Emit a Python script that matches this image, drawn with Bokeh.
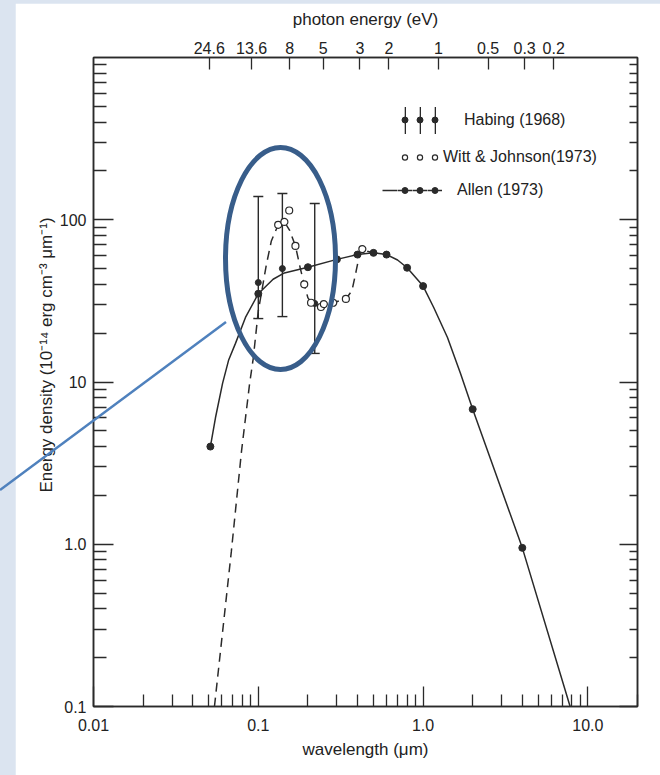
from bokeh.plotting import figure
from bokeh.models import (ColumnDataSource, Whisker, TeeHead, LogAxis, Range1d,
                          LogScale, FixedTicker, Legend, LegendItem, Title, Div)
from bokeh.layouts import column
from bokeh.core.properties import value
from bokeh.embed import file_html
from bokeh.resources import INLINE

# Wavelength in micron, energy density in 1e-14 erg cm^-3 micron^-1

# Habing (1968): far-UV points with error bars
habing_wl = [0.10, 0.14, 0.22]
habing_u = [41.0, 50.0, 30.5]
habing_lo = [24.6, 25.3, 15.0]
habing_hi = [139.0, 145.0, 126.0]

# Witt & Johnson (1973): measured points
witt_wl = [0.132, 0.144, 0.154, 0.168, 0.190, 0.209, 0.240, 0.250, 0.285, 0.340, 0.428]
witt_u = [93.0, 97.0, 114.0, 69.0, 40.0, 30.8, 29.0, 30.2, 30.8, 32.5, 66.0]

# Witt & Johnson (1973): dashed curve
witt_curve_wl = [0.0542, 0.0686, 0.0791, 0.0885, 0.0932, 0.100, 0.112, 0.120, 0.132,
                 0.144, 0.155, 0.168, 0.180, 0.190, 0.200, 0.214, 0.240, 0.285, 0.340,
                 0.370, 0.392, 0.410, 0.428, 0.460, 0.500]
witt_curve_u = [0.10, 0.90, 3.75, 9.7, 14.0, 27.4, 53.0, 74.0, 93.0,
                97.0, 86.0, 69.0, 50.0, 40.0, 33.0, 30.2, 29.0, 30.8, 32.5,
                36.5, 48.0, 60.0, 66.0, 64.0, 62.5]

# Allen (1973): tabulated points
allen_wl = [0.0512, 0.10, 0.20, 0.30, 0.40, 0.50, 0.60, 0.80, 1.0, 2.0, 4.0]
allen_u = [4.0, 35.0, 51.0, 57.0, 61.0, 62.5, 61.0, 50.6, 39.0, 6.8, 0.95]

# Allen (1973): solid curve
allen_curve_wl = [0.0512, 0.0550, 0.0607, 0.0660, 0.0727, 0.0836, 0.100, 0.123, 0.144,
                  0.20, 0.30, 0.40, 0.50, 0.60, 0.70, 0.80, 1.0, 1.16, 1.406, 1.687,
                  2.0, 4.0, 7.8]
allen_curve_u = [4.0, 6.04, 9.8, 13.6, 17.3, 25.0, 35.0, 43.0, 47.0,
                 51.0, 57.0, 61.0, 62.5, 61.0, 56.5, 50.6, 39.0, 28.8, 18.8, 11.3,
                 6.8, 0.95, 0.10]

# Axis ticks and labels
wl_ticks = [0.01, 0.1, 1.0, 10.0]
wl_labels = ["0.01", "0.1", "1.0", "10.0"]
u_ticks = [0.1, 1.0, 10.0, 100.0]
u_labels = ["0.1", "1.0", "10", "100"]
ev_ticks = [24.6, 13.6, 8, 5, 3, 2, 1, 0.5, 0.3, 0.2]
ev_labels = ["24.6", "13.6", "8", "5", "3", "2", "1", "0.5", "0.3", "0.2"]

HC = 1.23984  # eV micron

INK = "#2a2a2a"
TEXT = "#222222"
FONT = "Liberation Sans"
PAGE_BLUE = "#dbe4f0"
RING_BLUE = "#385d8a"
POINTER_BLUE = "#4f81bd"

wl_minor = [m * 10.0 ** e for e in range(-2, 2) for m in range(2, 10)]
u_minor = [m * 10.0 ** e for e in range(-1, 3) for m in range(2, 10)]

p = figure(width=645, height=772, x_axis_type="log", y_axis_type="log",
           x_range=Range1d(0.01, 20.0), y_range=Range1d(0.1, 1000.0),
           output_backend="svg", toolbar_location=None,
           min_border_left=78, min_border_right=23, min_border_top=54, min_border_bottom=69,
           background_fill_color="white", border_fill_color="white",
           outline_line_color=INK, outline_line_width=1.5)
p.margin = (3, 0, 0, 15)
p.grid.visible = False
p.extra_x_ranges = {"energy": Range1d(start=HC / 0.01, end=HC / 20.0)}
p.extra_x_scales = {"energy": LogScale()}


def style_axis(ax, major_in, minor_in):
    ax.axis_line_color = INK
    ax.axis_line_width = 1.5
    ax.major_tick_line_color = INK
    ax.minor_tick_line_color = INK
    ax.major_tick_line_width = 1.3
    ax.minor_tick_line_width = 1.3
    ax.major_tick_in = major_in
    ax.major_tick_out = 0
    ax.minor_tick_in = minor_in
    ax.minor_tick_out = 0
    ax.major_label_text_font = FONT
    ax.major_label_text_font_size = "16px"
    ax.major_label_text_color = TEXT
    ax.axis_label_text_font = FONT
    ax.axis_label_text_font_size = "17px"
    ax.axis_label_text_font_style = "normal"
    ax.axis_label_text_color = TEXT


# bottom: wavelength
xb = p.xaxis[0]
xb.ticker = FixedTicker(ticks=wl_ticks, minor_ticks=wl_minor)
xb.major_label_overrides = dict(zip(wl_ticks, wl_labels))
xb.axis_label = "wavelength (μm)"
style_axis(xb, 20, 12)
xb.major_label_standoff = 12
xb.axis_label_standoff = 6

# left: energy density
yl = p.yaxis[0]
yl.ticker = FixedTicker(ticks=u_ticks, minor_ticks=u_minor)
yl.major_label_overrides = dict(zip(u_ticks, u_labels))
style_axis(yl, 20, 13)
yl.major_label_standoff = 7

# right: tick marks only
yr = LogAxis(ticker=FixedTicker(ticks=u_ticks, minor_ticks=u_minor))
yr.major_label_overrides = {t: "" for t in u_ticks}
style_axis(yr, 18, 8)
p.add_layout(yr, "right")

# top: photon energy
xt = LogAxis(x_range_name="energy", ticker=FixedTicker(ticks=ev_ticks, minor_ticks=[]))
xt.major_label_overrides = dict(zip(ev_ticks, ev_labels))
xt.axis_label = "photon energy (eV)"
style_axis(xt, 12, 0)
xt.minor_tick_line_color = None
xt.major_label_standoff = 4
xt.axis_label_standoff = 10
p.add_layout(xt, "above")

# y axis title, starting a little above the bottom of the frame
ytitle = Title(text="Energy density (10⁻¹⁴ erg cm⁻³ μm⁻¹)", align="left", offset=214,
               text_font=FONT, text_font_size="17px", text_font_style="normal",
               text_color=TEXT, standoff=2)
p.add_layout(ytitle, "left")

# curves
allen_line = p.line(allen_curve_wl, allen_curve_u, line_color=INK, line_width=1.5)
witt_line = p.line(witt_curve_wl, witt_curve_u, line_color=INK, line_width=1.5,
                   line_dash="9 6")

hab_src = ColumnDataSource(dict(wl=habing_wl, u=habing_u, lo=habing_lo, hi=habing_hi))
p.add_layout(Whisker(base="wl", lower="lo", upper="hi", source=hab_src,
                     line_color=INK, line_width=1.4,
                     upper_head=TeeHead(size=10, line_color=INK, line_width=1.4),
                     lower_head=TeeHead(size=10, line_color=INK, line_width=1.4)))
# zero-width spans over the same bars: supplies the bar swatch for the key
bar_key = p.quad(left="wl", right="wl", top="hi", bottom="lo", source=hab_src,
                 fill_color=INK, line_color=None)

habing_dots = p.scatter("wl", "u", source=hab_src, marker="circle", size=6,
                        fill_color=INK, line_color=INK)
allen_dots = p.scatter(allen_wl, allen_u, marker="circle", size=7,
                       fill_color=INK, line_color=INK)
witt_pts = p.scatter(witt_wl, witt_u, marker="circle", size=7,
                     fill_color="white", line_color=INK, line_width=1.2)

# highlight ring around the far-UV measurements
p.ellipse(x=[0.1364], y=[57.7], width=110, height=222, width_units="screen",
          height_units="screen", fill_color=None, line_color=RING_BLUE, line_width=5)


def key_legend(items, x, y, gw, gh, standoff):
    lg = Legend(items=items, location=(x, y), orientation="horizontal",
                glyph_width=gw, glyph_height=gh, label_standoff=standoff, spacing=0,
                label_width=0, label_height=gh, padding=0, margin=0,
                border_line_color=None, background_fill_alpha=0,
                label_text_font=FONT, label_text_font_size="16px",
                label_text_color=TEXT)
    p.add_layout(lg)


blank = value("")
key_legend([LegendItem(label=blank, renderers=[bar_key]) for _ in range(3)]
           + [LegendItem(label=value("Habing (1968)"), renderers=[])],
           311, 569, 2, 34, 13)
key_legend([LegendItem(label=blank, renderers=[habing_dots]) for _ in range(3)],
           304, 579, 15, 15, 0)
key_legend([LegendItem(label=blank, renderers=[witt_pts]),
            LegendItem(label=blank, renderers=[witt_pts]),
            LegendItem(label=value("Witt & Johnson(1973)"), renderers=[witt_pts])],
           305, 540, 13, 18, 2)
key_legend([LegendItem(label=blank, renderers=[allen_line])]
           + [LegendItem(label=blank, renderers=[allen_line, allen_dots]) for _ in range(3)]
           + [LegendItem(label=value("Allen (1973)"), renderers=[])],
           289, 507, 15, 18, 0)

# pointer line running from the page edge to the ring (drawn over the whole page)
pointer = Div(text=('<svg width="660" height="775" xmlns="http://www.w3.org/2000/svg">'
                    f'<line x1="0" y1="490" x2="226" y2="322" stroke="{POINTER_BLUE}" '
                    'stroke-width="2.5"/></svg>'),
              width=660, height=775, margin=0,
              styles={"position": "absolute", "left": "0px", "top": "0px",
                      "pointer-events": "none"})

root = column(p, pointer, width=660, height=775,
              styles={"background-color": PAGE_BLUE, "position": "relative"})
open("out.html", "w").write(file_html(root, INLINE))
